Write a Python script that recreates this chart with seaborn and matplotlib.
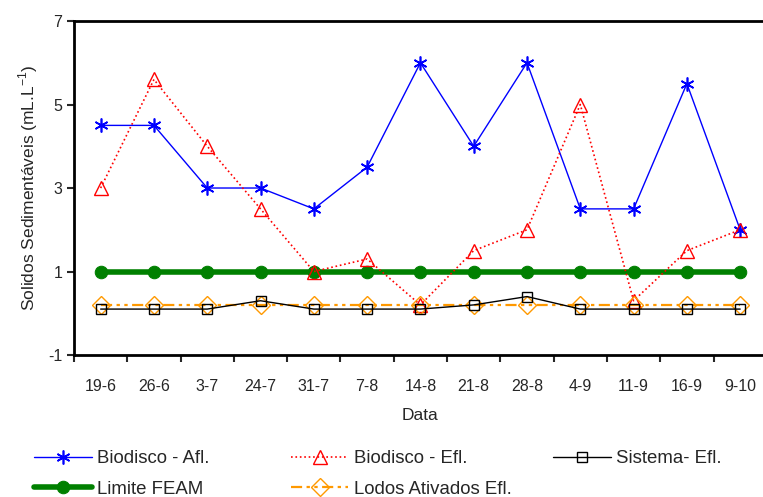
import numpy as np
import pandas as pd
import matplotlib
matplotlib.use('Agg')
import matplotlib.pyplot as plt
import seaborn as sns

# dados
datas = ['19-6', '26-6', '3-7', '24-7', '31-7', '7-8', '14-8', '21-8', '28-8', '4-9', '11-9', '16-9', '9-10']
biodisco_afl = [4.5, 4.5, 3.0, 3.0, 2.5, 3.5, 6.0, 4.0, 6.0, 2.5, 2.5, 5.5, 2.0]
biodisco_efl = [3.0, 5.6, 4.0, 2.5, 1.0, 1.3, 0.2, 1.5, 2.0, 5.0, 0.3, 1.5, 2.0]
sistema_efl = [0.1, 0.1, 0.1, 0.3, 0.1, 0.1, 0.1, 0.2, 0.4, 0.1, 0.1, 0.1, 0.1]
limite_feam = [1.0] * 13
lodos_efl = [0.2] * 13
y_ticks = [-1, 1, 3, 5, 7]

sns.set_theme(style='ticks')
plt.rcParams['font.family'] = ['Liberation Sans', 'DejaVu Sans']
plt.rcParams['axes.unicode_minus'] = False

df = pd.DataFrame({'pos': np.arange(len(datas)), 'Data': datas,
                   'afl': biodisco_afl, 'efl': biodisco_efl, 'sis': sistema_efl,
                   'feam': limite_feam, 'lodos': lodos_efl})

fig = plt.figure(figsize=(7.63, 4.97), dpi=100)
ax = fig.add_axes([0.097, 0.2857, 0.908, 0.672])

sns.lineplot(data=df, x='pos', y='feam', ax=ax, color='#008000', lw=4, marker='o', ms=9,
             markeredgecolor='#008000', label='Limite FEAM', zorder=3)
sns.lineplot(data=df, x='pos', y='afl', ax=ax, color='#0000FF', lw=1, marker=(6, 2, 0), ms=10,
             markeredgecolor='#0000FF', markeredgewidth=1.2, label='Biodisco - Afl.', zorder=4)
sns.lineplot(data=df, x='pos', y='efl', ax=ax, color='#FF0000', lw=1.2, ls=':', marker='^', ms=10,
             markerfacecolor='none', markeredgecolor='#FF0000', markeredgewidth=1, label='Biodisco - Efl.', zorder=4)
sns.lineplot(data=df, x='pos', y='lodos', ax=ax, color='#FF9900', lw=1.6, marker='D', ms=9,
             markerfacecolor='none', markeredgecolor='#FF9900', markeredgewidth=1, label='Lodos Ativados Efl.', zorder=4)
ax.lines[-1].set_dashes([5, 2, 1.5, 2, 1.5, 2])
sns.lineplot(data=df, x='pos', y='sis', ax=ax, color='black', lw=1, marker='s', ms=7,
             markerfacecolor='none', markeredgecolor='black', markeredgewidth=1, label='Sistema- Efl.', zorder=5)

ax.set_xlim(-0.5, len(datas) - 0.5)
ax.set_ylim(-1, 7)
ax.set_yticks(y_ticks)
ax.set_xticks(np.arange(len(datas)))
ax.set_xticklabels(datas)
ax.set_xticks(np.arange(len(datas) + 1) - 0.5, minor=True)
ax.tick_params(axis='x', which='major', length=0, pad=17, labelsize=11.5)
ax.tick_params(axis='x', which='minor', length=5, width=1.5, direction='out')
ax.tick_params(axis='y', length=5, width=1.5, direction='out', labelsize=11.5)
for s in ax.spines.values():
    s.set_linewidth(2)
    s.set_color('black')

ax.set_xlabel('Data', fontsize=12.5, labelpad=10)
ax.set_ylabel(r'Solidos Sedimentáveis (mL.L$^{\mathregular{-1}}$)', fontsize=12.5, labelpad=6)

# legenda em três colunas posicionadas como no original
h, l = ax.get_legend_handles_labels()
ax.get_legend().remove()
colunas = [(['Biodisco - Afl.', 'Limite FEAM'], 0.0446),
           (['Biodisco - Efl.', 'Lodos Ativados Efl.'], 0.381),
           (['Sistema- Efl.'], 0.725)]
for nomes, x0 in colunas:
    fig.legend([h[l.index(n)] for n in nomes], nomes, loc='upper left', bbox_to_anchor=(x0, 0.094),
               frameon=False, fontsize=13.4, handlelength=3.1, handletextpad=0.3,
               labelspacing=0.72, borderpad=0, borderaxespad=0)

fig.savefig('out.png', dpi=100)
